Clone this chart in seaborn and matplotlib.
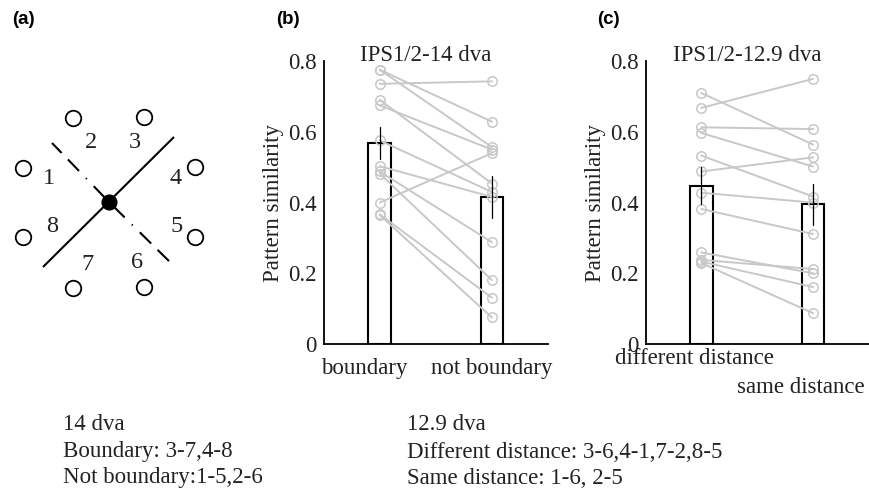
import matplotlib
matplotlib.use("Agg")
import numpy as np
import pandas as pd
import seaborn as sns
import matplotlib.pyplot as plt
from matplotlib.transforms import ScaledTranslation

# ---------------- data ----------------
conds_b = ["boundary", "not boundary"]
boundary_vals = [0.776, 0.776, 0.736, 0.691, 0.675, 0.576, 0.503, 0.488, 0.482, 0.400, 0.367, 0.365]
not_boundary_vals = [0.629, 0.557, 0.743, 0.454, 0.550, 0.430, 0.416, 0.288, 0.181, 0.540, 0.131, 0.075]

conds_c = ["different distance", "same distance"]
different_vals = [0.710, 0.668, 0.613, 0.597, 0.533, 0.488, 0.428, 0.382, 0.259, 0.238, 0.233, 0.229]
same_vals = [0.564, 0.750, 0.608, 0.502, 0.417, 0.528, 0.400, 0.311, 0.200, 0.212, 0.161, 0.087]

title_b = "IPS1/2-14 dva"
title_c = "IPS1/2-12.9 dva"
ylabel = "Pattern similarity"
yticks = [0, 0.2, 0.4, 0.6, 0.8]
ytick_labels = ["0", "0.2", "0.4", "0.6", "0.8"]

# schematic of panel (a) (offsets from the fixation dot)
target_labels = ["1", "2", "3", "4", "5", "6", "7", "8"]
target_x = [-86, -36, 35, 86, 86, 35, -36, -86]
target_y = [34, 84, 85, 35, -35, -85, -86, -35]
label_x = [-60, -18, 26, 67, 68, 28, -22, -57]
label_y = [24, 60, 60, 24, -25, -61, -63, -25]
solid_x = [-66, 65]
solid_y = [-65, 65]
dashed_end_x = [-57, 66]
dashed_end_y = [59, -65]

notes_left = ["14 dva", "Boundary: 3-7,4-8", "Not boundary:1-5,2-6"]
notes_right = ["12.9 dva", "Different distance: 3-6,4-1,7-2,8-5", "Same distance: 1-6, 2-5"]

# ---------------- style ----------------
sns.set_theme(style="white")
plt.rcParams["font.family"] = ["Liberation Serif", "DejaVu Serif"]
plt.rcParams["lines.scale_dashes"] = False
TXT = "#222222"
GRAY = "#c8c8c8"
FS = 16.5

W, H = 869, 495
fig = plt.figure(figsize=(W / 100, H / 100), dpi=100)
fig.patch.set_facecolor("white")


def px_axes(left, top, right, bottom):
    return fig.add_axes([left / W, 1 - bottom / H, (right - left) / W, (bottom - top) / H])


def make_df(conds, a, b):
    n = len(a)
    return pd.DataFrame({
        "subj": list(range(n)) * 2,
        "cond": [conds[0]] * n + [conds[1]] * n,
        "pos": [0] * n + [1] * n,
        "val": list(a) + list(b),
    })


def bar_panel(ax, df, conds, title, pads, shifts):
    sns.barplot(data=df, x="cond", y="val", order=conds, errorbar="se", width=0.2,
                color="white", saturation=1, edgecolor="black", linewidth=1.5,
                err_kws={"color": "black", "linewidth": 0.9}, ax=ax)
    err_lines = list(ax.lines)
    sns.lineplot(data=df, x="pos", y="val", units="subj", estimator=None, sort=False,
                 color=GRAY, marker="o", markersize=6.8, markerfacecolor="none",
                 markeredgecolor=GRAY, markeredgewidth=1.1, linewidth=1.4,
                 legend=False, ax=ax)
    for ln in err_lines:
        ln.set_zorder(5)
    ax.set_xlim(-0.5, 1.5)
    ax.set_ylim(0, 0.8)
    ax.set_xticks([0, 1])
    ax.set_xticklabels(conds)
    ax.set_yticks(yticks)
    ax.set_yticklabels(ytick_labels)
    ax.set_xlabel("")
    ax.set_ylabel(ylabel, fontsize=FS, color=TXT, labelpad=2.5)
    for s in ["top", "right"]:
        ax.spines[s].set_visible(False)
    for s in ["left", "bottom"]:
        ax.spines[s].set_color("black")
        ax.spines[s].set_linewidth(1.3)
    ax.set_facecolor("none")
    ax.tick_params(direction="in", length=2.5, width=0.8, labelsize=FS, colors=TXT)
    ax.tick_params(axis="y", pad=5)
    ax.text(0.455, 1.0, title, transform=ax.transAxes, ha="center", va="baseline",
            fontsize=FS, color=TXT)
    ticks = ax.xaxis.get_major_ticks()
    for tk, p in zip(ticks, pads):
        tk.set_pad(p)
    for lbl, dx in zip(ax.get_xticklabels(), shifts):
        lbl.set_transform(lbl.get_transform() + ScaledTranslation(dx / 100, 0, fig.dpi_scale_trans))


# ---------------- panel (a) ----------------
axa = px_axes(0, 92, 220, 312)
axa.set_xlim(-109, 111)
axa.set_ylim(-110, 110)
axa.set_axis_off()
axa.plot(solid_x, solid_y, color="black", lw=1.5, solid_capstyle="butt", zorder=2)
dash_px = [22, 10, 1.2, 10, 16, 9, 16, 300]
dash_pt = [d * 0.72 for d in dash_px]
for ex, ey in zip(dashed_end_x, dashed_end_y):
    axa.plot([0, ex], [0, ey], color="black", lw=1.5, dashes=dash_pt,
             dash_capstyle="butt", zorder=2)
sns.scatterplot(x=target_x, y=target_y, ax=axa, s=125, color="white",
                edgecolor="black", linewidth=1.3, marker="o", zorder=3, legend=False)
sns.scatterplot(x=[0], y=[0], ax=axa, s=135, color="black", edgecolor="black",
                linewidth=0, marker="o", zorder=4, legend=False)
for t, x, y in zip(target_labels, label_x, label_y):
    axa.text(x, y, t, ha="center", va="center", fontsize=17.5, color=TXT)

# ---------------- panel (b) ----------------
axb = px_axes(323.5, 61.2, 548, 344)
bar_panel(axb, make_df(conds_b, boundary_vals, not_boundary_vals), conds_b, title_b,
          pads=[10, 10], shifts=[-15, 0])

# ---------------- panel (c) ----------------
axc = px_axes(645.5, 61.2, 869, 344)
bar_panel(axc, make_df(conds_c, different_vals, same_vals), conds_c, title_c,
          pads=[3, 24], shifts=[-7, -12])

# ---------------- panel letters ----------------
for lab, x in zip(["(a)", "(b)", "(c)"], [12, 276, 597]):
    fig.text(x / W, 1 - 19 / H, lab, fontfamily=["Liberation Sans", "DejaVu Sans"],
             fontweight="bold", fontsize=13.5, va="center", ha="left", color="black")

# ---------------- notes ----------------
for i, (l, r) in enumerate(zip(notes_left, notes_right)):
    y = [425, 452, 478][i]
    fig.text(63 / W, 1 - y / H, l, fontsize=FS, va="center", ha="left", color=TXT)
    fig.text(407 / W, 1 - y / H, r, fontsize=FS, va="center", ha="left", color=TXT)

fig.savefig("out.png", dpi=100, facecolor="white")
